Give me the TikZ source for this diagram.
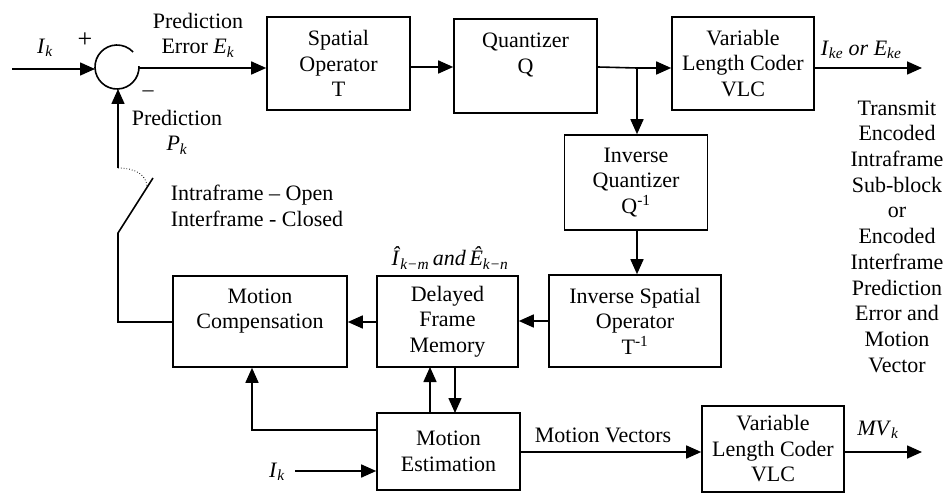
\documentclass[tikz,border=0pt]{standalone}
\usepackage{fontspec}
\setmainfont{Liberation Serif}
\usetikzlibrary{arrows.meta}
\newcommand\itsub[2]{\textit{#1}\textsubscript{\textit{#2}}}
\begin{document}
\begin{tikzpicture}[x=1pt,y=-1pt,
  font=\fontsize{22}{25.5}\selectfont,
  line width=1.6pt,
  box/.style={draw, rectangle, align=center, inner sep=0pt},
  lbl/.style={align=center, inner sep=0pt},
  arr/.style={-{Triangle[length=15pt,width=13pt]}}]
\useasboundingbox (0,0) rectangle (945,494);

% boxes
\node[box, minimum width=143pt, minimum height=93pt] (so) at (338.5,63.5) {Spatial\\Operator\\T};
\node[box, minimum width=143pt, minimum height=94pt] (q) at (525.5,66) {Quantizer\\Q\\\mbox{}};
\node[box, minimum width=142pt, minimum height=93pt] (vlc) at (743,63.5) {Variable\\Length Coder\\VLC};
\node[box, minimum width=143pt, minimum height=95pt] (iq) at (636,182.5) {Inverse\\Quantizer\\Q\textsuperscript{-1}};
\node[box, minimum width=172pt, minimum height=92pt] (iso) at (635,321) {Inverse Spatial\\Operator\\T\textsuperscript{-1}};
\node[box, minimum width=141pt, minimum height=91pt] (dfm) at (447.5,321.5) {Delayed\\Frame\\Memory};
\node[box, minimum width=174pt, minimum height=91pt] (mc) at (260,321.5) {Motion\\Compensation\\\mbox{}};
\node[box, minimum width=143pt, minimum height=77pt] (me) at (448.5,451.5) {Motion\\Estimation};
\node[box, minimum width=142pt, minimum height=86pt] (vlc2) at (773,449) {Variable\\Length Coder\\VLC};

% summing junction
\node[circle, minimum size=44pt, inner sep=0pt] (sum) at (117,67) {};
\draw (sum.center) ++(-2:22) arc[start angle=-2, end angle=317, radius=22];

% coordinates
\coordinate (in) at (12,69);
\coordinate (br) at (637,68);
\coordinate (out1) at (922,68);
\coordinate (swtop) at (118,168);
\coordinate (swbot) at (118,233);
\coordinate (swtip) at (153,178);
\coordinate (mcl) at (118,322);
\coordinate (mev) at (252,430);
\coordinate (ikin) at (295,471);
\coordinate (out2) at (922,452);

% top row
\draw[arr] (in) -- (95,69);
\draw[arr] (139,68) -- (so.west |- 0,68);
\draw[arr] (so.east |- 0,67) -- (q.west |- 0,67);
\draw (q.east |- 0,67) -- (br);
\draw[arr] (br) -- (vlc.west |- br);
\draw[arr] (br) -- (br |- iq.north);
\draw[arr] (vlc.east |- 0,68) -- (out1);

% inverse path
\draw[arr] (iq.south -| br) -- (br |- iso.north);
\draw[arr] (iso.west |- 0,321) -- (dfm.east |- 0,321);
\draw[arr] (dfm.west |- 0,322) -- (mc.east |- 0,322);

% feedback & switch
\draw (mc.west |- mcl) -- (mcl) -- (swbot) -- (swtip);
\draw[arr] (swtop) -- (118,89);
\draw[line width=0.8pt, dotted] (swtop) .. controls (134,168) and (146,174) .. (147,186);

% motion estimation links
\draw[arr] (430,413) -- (430,367);
\draw[arr] (455,367) -- (455,413);
\draw[arr] (me.west |- mev) -- (mev) -- (mev |- mc.south);
\draw[arr] (ikin) -- (me.west |- ikin);
\draw[arr] (me.east |- 0,452) -- (vlc2.west |- 0,452);
\draw[arr] (vlc2.east |- 0,452) -- (out2);

% labels
\node[lbl] (lik) at (45,48) {\itsub{I}{k}};
\node[lbl, font=\fontsize{26}{26}\selectfont] (lplus) at (85,40) {+};
\node[lbl] (lminus) at (148,94) {–};
\node[lbl] (lpe) at (198,35) {Prediction\\Error \itsub{E}{k}};
\node[lbl] (lpp) at (177,132) {Prediction\\\itsub{P}{k}};
\node[lbl, align=left, anchor=west] (lsw) at (170,206) {Intraframe – Open\\Interframe - Closed};
\node[lbl, anchor=west] (lout) at (820,50) {\itsub{I}{ke} \textit{or} \itsub{E}{ke}};
\node[lbl, font=\fontsize{22}{25.7}\selectfont] (ltx) at (897,236.5) {Transmit\\Encoded\\Intraframe\\Sub-block\\or\\Encoded\\Interframe\\Prediction\\Error and\\Motion\\Vector};
\node[lbl] (lhat) at (450,258) {\itsub{Î}{k−m}\,\textit{and}\,\itsub{Ê}{k−n}};
\node[lbl] (lmv) at (603,435) {Motion Vectors};
\node[lbl] (lmvk) at (878,430) {\itsub{MV}{k}};
\node[lbl] (lik2) at (277,472) {\itsub{I}{k}};
\end{tikzpicture}
\end{document}
